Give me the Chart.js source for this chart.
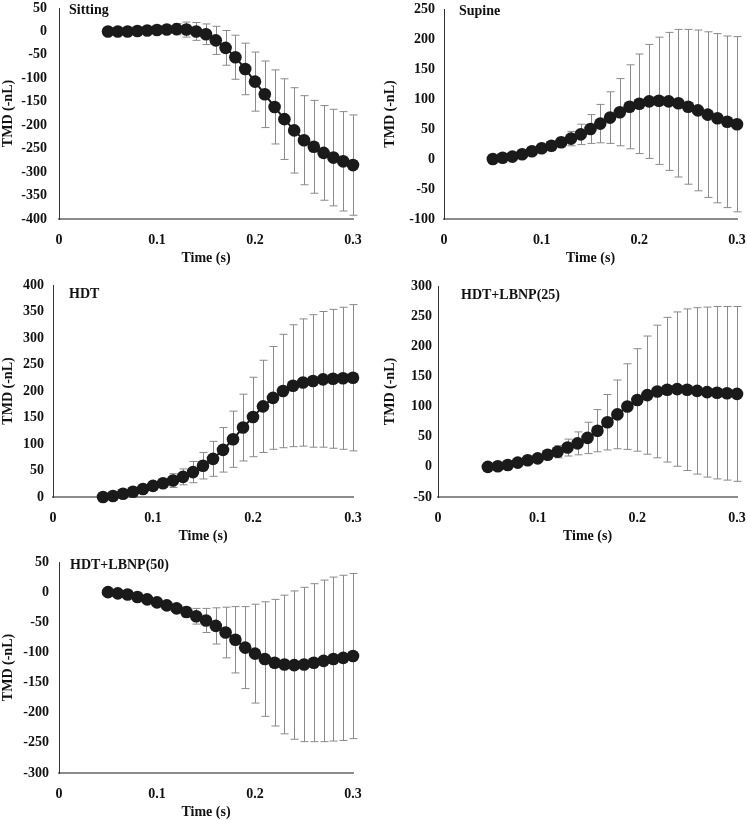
<!DOCTYPE html>
<html>
<head>
<meta charset="utf-8">
<script src="https://cdn.jsdelivr.net/npm/chart.js@4.4.1/dist/chart.umd.min.js"></script>
<style>
  html, body { margin: 0; padding: 0; background: #fff; overflow: hidden; }
  #wrap { position: relative; width: 747px; height: 821px; }
  #wrap canvas { position: absolute; }
</style>
</head>
<body>
<div id="wrap"></div>
<script>
// time points (s)
const times = [0.05, 0.06, 0.07, 0.08, 0.09, 0.10, 0.11, 0.12, 0.13, 0.14, 0.15, 0.16, 0.17,
               0.18, 0.19, 0.20, 0.21, 0.22, 0.23, 0.24, 0.25, 0.26, 0.27, 0.28, 0.29, 0.30];
const xTicks = [0, 0.1, 0.2, 0.3];

// TMD means and SD per posture
const sittingMean = [0, 0, 0, 1, 2, 3, 4, 5, 4, 0, -6, -19, -35, -55, -80, -107, -134, -161, -187, -211, -232, -246, -259, -269, -277, -285];
const sittingSd   = [1, 1, 2, 2, 3, 4, 7, 12, 16, 19, 22, 30, 37, 47, 55, 63, 71, 79, 86, 91, 95, 99, 101, 103, 106, 107];
const sittingTicks = [50, 0, -50, -100, -150, -200, -250, -300, -350, -400];

const supineMean = [0, 2, 4, 8, 13, 18, 22, 28, 34, 41, 50, 59, 69, 78, 87, 92, 96, 97, 96, 93, 87, 81, 74, 68, 62, 58];
const supineSd   = [1, 1, 2, 2, 3, 4, 5, 8, 12, 17, 24, 32, 43, 56, 70, 83, 95, 106, 115, 123, 129, 134, 138, 141, 143, 146];
const supineTicks = [250, 200, 150, 100, 50, 0, -50, -100];

const hdtMean = [0, 2, 6, 10, 15, 21, 26, 31, 38, 47, 59, 72, 89, 109, 131, 151, 171, 187, 200, 210, 216, 219, 222, 223, 224, 225];
const hdtSd   = [1, 1, 2, 3, 4, 5, 8, 13, 15, 20, 25, 33, 42, 53, 63, 75, 87, 97, 107, 115, 120, 125, 128, 131, 134, 138];
const hdtTicks = [400, 350, 300, 250, 200, 150, 100, 50, 0];

const lbnp25Mean = [0, 1, 3, 7, 11, 14, 20, 25, 32, 39, 48, 60, 74, 87, 100, 111, 119, 125, 128, 129, 128, 126, 124, 123, 122, 121];
const lbnp25Sd   = [1, 1, 2, 2, 3, 4, 6, 10, 14, 19, 26, 35, 46, 57, 71, 85, 98, 110, 120, 128, 134, 138, 141, 143, 144, 145];
const lbnp25Ticks = [300, 250, 200, 150, 100, 50, 0, -50];

const lbnp50Mean = [0, -2, -4, -8, -12, -17, -22, -27, -33, -40, -47, -56, -67, -79, -92, -102, -111, -117, -120, -121, -120, -117, -114, -111, -109, -106];
const lbnp50Sd   = [1, 1, 2, 2, 3, 4, 5, 6, 8, 13, 20, 30, 42, 55, 68, 82, 95, 105, 115, 123, 128, 131, 134, 136, 137, 137];
const lbnp50Ticks = [50, 0, -50, -100, -150, -200, -250, -300];

const FONT = "'Liberation Serif', 'Times New Roman', serif";
Chart.defaults.font.family = FONT;
Chart.defaults.font.weight = 'bold';
Chart.defaults.font.size = 14;
Chart.defaults.color = '#111';

// layout of the five panels (canvas box; plot area sits 24px in from top and right)
const PAD = 24;
const panels = [
  { name: 'Sitting', mean: sittingMean, sd: sittingSd, ticks: sittingTicks,
    left: 0, top: -16, width: 377, height: 286, yWidth: 59, tickPad: 12, titlePad: 0, lx: 10, ly: 2 },
  { name: 'Supine', mean: supineMean, sd: supineSd, ticks: supineTicks,
    left: 370, top: -15, width: 391, height: 285, yWidth: 74, tickPad: 9, titlePad: 11.6, lx: 15, ly: 2 },
  { name: 'HDT', mean: hdtMean, sd: hdtSd, ticks: hdtTicks,
    left: 0, top: 261, width: 377, height: 287, yWidth: 53, tickPad: 9, titlePad: 0, lx: 16, ly: 9 },
  { name: 'HDT+LBNP(25)', mean: lbnp25Mean, sd: lbnp25Sd, ticks: lbnp25Ticks,
    left: 370, top: 262, width: 391, height: 286, yWidth: 68, tickPad: 6, titlePad: 11.6, lx: 23, ly: 9 },
  { name: 'HDT+LBNP(50)', mean: lbnp50Mean, sd: lbnp50Sd, ticks: lbnp50Ticks,
    left: 0, top: 538, width: 377, height: 286, yWidth: 59, tickPad: 10, titlePad: 0, lx: 11, ly: 3 }
];

// error bars, drawn behind the markers
const errorBars = {
  id: 'errorBars',
  beforeDatasetsDraw(chart) {
    const sd = chart.options.plugins.errorBars.sd;
    const ds = chart.data.datasets[0].data;
    const xs = chart.scales.x, ys = chart.scales.y;
    const ctx = chart.ctx;
    ctx.save();
    ctx.strokeStyle = '#8a8a8a';
    ctx.lineWidth = 1;
    ds.forEach((p, i) => {
      const x = Math.round(xs.getPixelForValue(p.x)) + 0.5;
      const y1 = ys.getPixelForValue(p.y + sd[i]);
      const y2 = ys.getPixelForValue(p.y - sd[i]);
      ctx.beginPath();
      ctx.moveTo(x, y1); ctx.lineTo(x, y2);
      ctx.moveTo(x - 4, y1); ctx.lineTo(x + 4, y1);
      ctx.moveTo(x - 4, y2); ctx.lineTo(x + 4, y2);
      ctx.stroke();
    });
    ctx.restore();
  }
};

// panel name inside the plot area
const panelLabel = {
  id: 'panelLabel',
  afterDraw(chart) {
    const o = chart.options.plugins.panelLabel;
    const ctx = chart.ctx;
    ctx.save();
    ctx.font = 'bold 14px ' + FONT;
    ctx.fillStyle = '#111';
    ctx.textAlign = 'left';
    ctx.textBaseline = 'middle';
    ctx.fillText(o.text, chart.chartArea.left + o.dx, chart.chartArea.top + o.dy);
    ctx.restore();
  }
};

const wrap = document.getElementById('wrap');
panels.forEach(p => {
  const canvas = document.createElement('canvas');
  canvas.width = p.width;
  canvas.height = p.height;
  canvas.style.left = p.left + 'px';
  canvas.style.top = p.top + 'px';
  wrap.appendChild(canvas);

  const yMin = Math.min(...p.ticks), yMax = Math.max(...p.ticks);

  new Chart(canvas, {
    type: 'scatter',
    data: {
      datasets: [{
        data: times.map((t, i) => ({ x: t, y: p.mean[i] })),
        showLine: true,
        clip: false,
        borderColor: '#1a1a1a',
        borderWidth: 2,
        backgroundColor: '#1a1a1a',
        pointRadius: 6.3,
        pointBorderWidth: 0
      }]
    },
    options: {
      responsive: false,
      animation: false,
      layout: { autoPadding: false, padding: { top: PAD, right: PAD, left: 0, bottom: 0 } },
      plugins: {
        legend: { display: false },
        tooltip: { enabled: false },
        errorBars: { sd: p.sd },
        panelLabel: { text: p.name, dx: p.lx, dy: p.ly }
      },
      scales: {
        x: {
          type: 'linear',
          min: 0, max: 0.3,
          afterBuildTicks: s => { s.ticks = xTicks.map(v => ({ value: v })); },
          afterFit: s => { s.height = 51; },
          ticks: { padding: 12.6, callback: v => String(v), maxRotation: 0 },
          grid: { display: false, drawTicks: false },
          border: { display: true, color: '#8c8c8c', width: 2 },
          title: { display: true, text: 'Time (s)', padding: { top: 0, bottom: 3.6 } }
        },
        y: {
          min: yMin, max: yMax,
          afterBuildTicks: s => { s.ticks = p.ticks.slice().sort((a, b) => a - b).map(v => ({ value: v })); },
          afterFit: s => { s.width = p.yWidth; },
          ticks: { padding: p.tickPad, callback: v => String(v) },
          grid: { display: false, drawTicks: false },
          border: { display: true, color: '#333', width: 1 },
          title: { display: true, text: 'TMD (-nL)', padding: { top: p.titlePad, bottom: 0 } }
        }
      }
    },
    plugins: [errorBars, panelLabel]
  });
});
</script>
</body>
</html>
